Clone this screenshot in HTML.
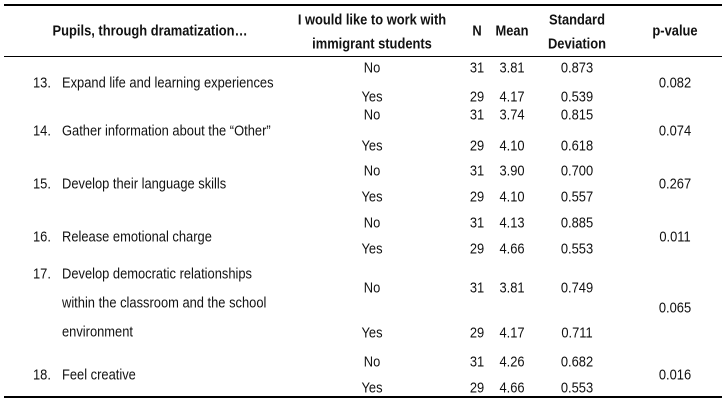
<!DOCTYPE html>
<html><head><style>
body{margin:0;width:725px;height:400px;background:#fff;position:relative;overflow:hidden;font-family:"Liberation Sans",Arial,sans-serif;font-size:15px;color:#111}
.c{position:absolute;transform:translate(-50%,-50%) scaleX(0.86);white-space:nowrap}
.l{position:absolute;transform:translateY(-50%) scaleX(0.86);transform-origin:left center;white-space:nowrap}
.b{font-weight:bold}
.r{position:absolute;left:4px;width:718px;background:#000}
</style></head><body>
<div class="r" style="top:4px;height:2px"></div>
<div class="r" style="top:56px;height:1px"></div>
<div class="r" style="top:396px;height:2px"></div>

<div class="c b" style="left:150px;top:31px">Pupils, through dramatization…</div>
<div class="c b" style="left:372px;top:20px">I would like to work with</div>
<div class="c b" style="left:372px;top:44px">immigrant students</div>
<div class="c b" style="left:477px;top:31px">N</div>
<div class="c b" style="left:512px;top:31px">Mean</div>
<div class="c b" style="left:577px;top:20px">Standard</div>
<div class="c b" style="left:577px;top:44px">Deviation</div>
<div class="c b" style="left:675px;top:31px">p-value</div>

<div class="l" style="left:33px;top:83px">13.</div><div class="l" style="left:62px;top:83px">Expand life and learning experiences</div>
<div class="l" style="left:33px;top:131px">14.</div><div class="l" style="left:62px;top:131px">Gather information about the “Other”</div>
<div class="l" style="left:33px;top:184px">15.</div><div class="l" style="left:62px;top:184px">Develop their language skills</div>
<div class="l" style="left:33px;top:237px">16.</div><div class="l" style="left:62px;top:237px">Release emotional charge</div>
<div class="l" style="left:33px;top:274px">17.</div><div class="l" style="left:62px;top:274px">Develop democratic relationships</div>
<div class="l" style="left:62px;top:303px">within the classroom and the school</div>
<div class="l" style="left:62px;top:332px">environment</div>
<div class="l" style="left:33px;top:375px">18.</div><div class="l" style="left:62px;top:375px">Feel creative</div>

<div class="c" style="left:372px;top:68px">No</div><div class="c" style="left:477px;top:68px">31</div><div class="c" style="left:512px;top:68px">3.81</div><div class="c" style="left:577px;top:68px">0.873</div>
<div class="c" style="left:372px;top:97px">Yes</div><div class="c" style="left:477px;top:97px">29</div><div class="c" style="left:512px;top:97px">4.17</div><div class="c" style="left:577px;top:97px">0.539</div>
<div class="c" style="left:675px;top:83px">0.082</div>

<div class="c" style="left:372px;top:115px">No</div><div class="c" style="left:477px;top:115px">31</div><div class="c" style="left:512px;top:115px">3.74</div><div class="c" style="left:577px;top:115px">0.815</div>
<div class="c" style="left:372px;top:146px">Yes</div><div class="c" style="left:477px;top:146px">29</div><div class="c" style="left:512px;top:146px">4.10</div><div class="c" style="left:577px;top:146px">0.618</div>
<div class="c" style="left:675px;top:131px">0.074</div>

<div class="c" style="left:372px;top:171px">No</div><div class="c" style="left:477px;top:171px">31</div><div class="c" style="left:512px;top:171px">3.90</div><div class="c" style="left:577px;top:171px">0.700</div>
<div class="c" style="left:372px;top:197px">Yes</div><div class="c" style="left:477px;top:197px">29</div><div class="c" style="left:512px;top:197px">4.10</div><div class="c" style="left:577px;top:197px">0.557</div>
<div class="c" style="left:675px;top:184px">0.267</div>

<div class="c" style="left:372px;top:223px">No</div><div class="c" style="left:477px;top:223px">31</div><div class="c" style="left:512px;top:223px">4.13</div><div class="c" style="left:577px;top:223px">0.885</div>
<div class="c" style="left:372px;top:249px">Yes</div><div class="c" style="left:477px;top:249px">29</div><div class="c" style="left:512px;top:249px">4.66</div><div class="c" style="left:577px;top:249px">0.553</div>
<div class="c" style="left:675px;top:237px">0.011</div>

<div class="c" style="left:372px;top:288px">No</div><div class="c" style="left:477px;top:288px">31</div><div class="c" style="left:512px;top:288px">3.81</div><div class="c" style="left:577px;top:288px">0.749</div>
<div class="c" style="left:372px;top:333px">Yes</div><div class="c" style="left:477px;top:333px">29</div><div class="c" style="left:512px;top:333px">4.17</div><div class="c" style="left:577px;top:333px">0.711</div>
<div class="c" style="left:675px;top:308px">0.065</div>

<div class="c" style="left:372px;top:362px">No</div><div class="c" style="left:477px;top:362px">31</div><div class="c" style="left:512px;top:362px">4.26</div><div class="c" style="left:577px;top:362px">0.682</div>
<div class="c" style="left:372px;top:388px">Yes</div><div class="c" style="left:477px;top:388px">29</div><div class="c" style="left:512px;top:388px">4.66</div><div class="c" style="left:577px;top:388px">0.553</div>
<div class="c" style="left:675px;top:375px">0.016</div>
</body></html>
